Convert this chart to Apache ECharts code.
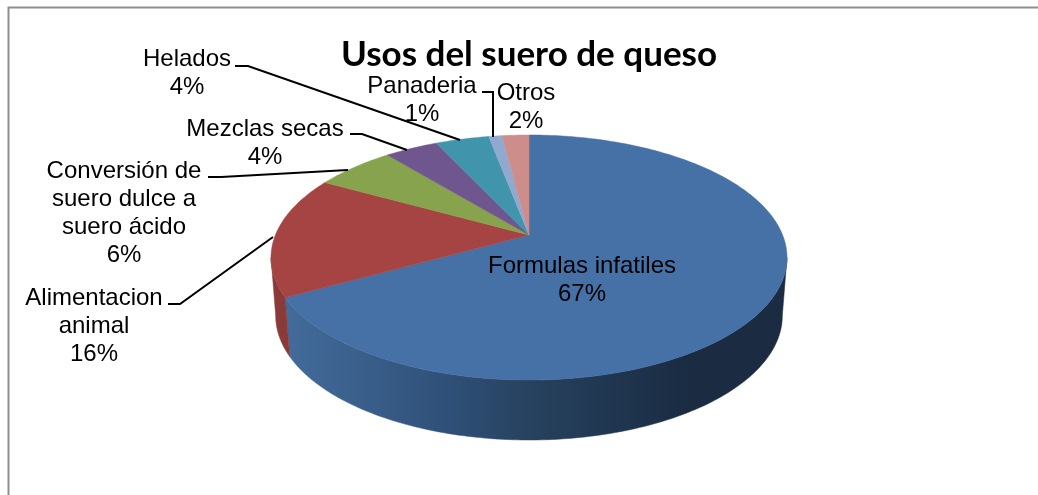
<!DOCTYPE html>
<html><head><meta charset="utf-8">
<style>html,body{margin:0;padding:0;background:#fff}#c{width:1038px;height:495px}</style>
<script src="https://cdn.jsdelivr.net/npm/echarts@6/dist/echarts.min.js"></script>
</head><body><div id="c"></div>
<script>
const categories = ['Formulas infatiles','Alimentacion\nanimal','Conversión de\nsuero dulce a\nsuero ácido','Mezclas secas','Helados','Panaderia','Otros'];
const values = [67,16,6,4,4,1,2];
const colors = ['#4671a6','#a54442','#87a34d','#70568f','#4095ad','#92a9cf','#cc8d8b'];
const sideColors = [null,'#8a3a38',null,null,null,null,null];

// 3D disc projection
const P = {cx:529, cy:235, R:253.6, A:118.4, k:0.1837, cy2:293, R2:249, A2:120};
const total = values.reduce((a,b)=>a+b,0);
const startAngle = i => values.slice(0,i).reduce((a,b)=>a+b,0)/total*360;
const rad = d => d*Math.PI/180;
function topPt(a){const u=Math.sin(rad(a)),v=Math.cos(rad(a)),w=1+P.k*v;return [P.cx+P.R*u/w,P.cy-P.A*v/w];}
function botPt(a){const u=Math.sin(rad(a)),v=Math.cos(rad(a)),w=1+P.k*v;return [P.cx+P.R2*u/w,P.cy2-P.A2*v/w];}
function arc(fn,a,b){const n=Math.max(2,Math.ceil(Math.abs(b-a)));const r=[];for(let i=0;i<=n;i++)r.push(fn(a+(b-a)*i/n));return r;}
const rightEdge = 100.6, leftEdge = 259.4;

const sideGradient = new echarts.graphic.LinearGradient(285,0,690,0,[
  {offset:0,color:'#436c9b'},{offset:0.4,color:'#2f5078'},{offset:0.6,color:'#27425f'},{offset:1,color:'#1a2b42'}],true);

// label layout: [centre x, first-line centre y]; leader: polyline
const labelPos = [[582,266],[94,298],[124,171],[265,129],[187,59],[422,86],[526,93]];
const leaders = [null,
 [[168,304],[180,304],[273,237]],
 [[208,177],[221,177],[348,170]],
 [[350,134],[362,134],[407,150]],
 [[235,66],[248,66],[460,140]],
 [[482,92],[493,92],[493,137]],
 null];

const dataRows = values.map((v,i)=>[v,i]);

const option = {
  animation:false,
  backgroundColor:'#fff',
  title:{text:'Usos del suero de queso',left:524,top:32,textAlign:'center',
    textStyle:{fontFamily:'Lato',fontWeight:700,fontSize:35,color:'#000'}},
  graphic:[{type:'polyline',shape:{points:[[8.5,500],[8.5,7.5],[1040,7.5]]},silent:true,
    style:{fill:'none',stroke:'#8f8f8f',lineWidth:2}}],
  series:[
    {type:'custom',name:'side',coordinateSystem:'none',data:dataRows,silent:true,
     renderItem(params,api){
       const i=api.value(1), a=startAngle(i), b=a+api.value(0)/total*360;
       const s=Math.max(a,rightEdge), e=Math.min(b,leftEdge);
       if(e<=s) return {type:'group',children:[]};
       const pts=arc(topPt,s,e).concat(arc(botPt,e,s));
       const fill = i===0 ? sideGradient : sideColors[i];
       return {type:'polygon',shape:{points:pts},style:{fill,stroke:fill,lineWidth:0.5}};
     }},
    {type:'custom',name:'top',coordinateSystem:'none',data:dataRows,silent:true,
     renderItem(params,api){
       const i=api.value(1), a=startAngle(i), b=a+api.value(0)/total*360;
       const pts=[[P.cx,P.cy]].concat(arc(topPt,a,b));
       return {type:'polygon',shape:{points:pts},style:{fill:colors[i],stroke:colors[i],lineWidth:0.5}};
     }},
    {type:'custom',name:'labels',coordinateSystem:'none',data:dataRows,silent:true,
     renderItem(params,api){
       const i=api.value(1), ch=[];
       if(leaders[i]) ch.push({type:'polyline',shape:{points:leaders[i]},style:{fill:'none',stroke:'#000',lineWidth:2}});
       ch.push({type:'text',style:{text:categories[i]+'\n'+api.value(0)+'%',x:labelPos[i][0],y:labelPos[i][1]-14,
         align:'center',verticalAlign:'top',fill:'#000',font:'24px "Liberation Sans"',lineHeight:28}});
       return {type:'group',children:ch};
     }}
  ]
};
const chart=echarts.init(document.getElementById('c'),null,{renderer:'canvas'});
chart.setOption(option);
</script></body></html>
